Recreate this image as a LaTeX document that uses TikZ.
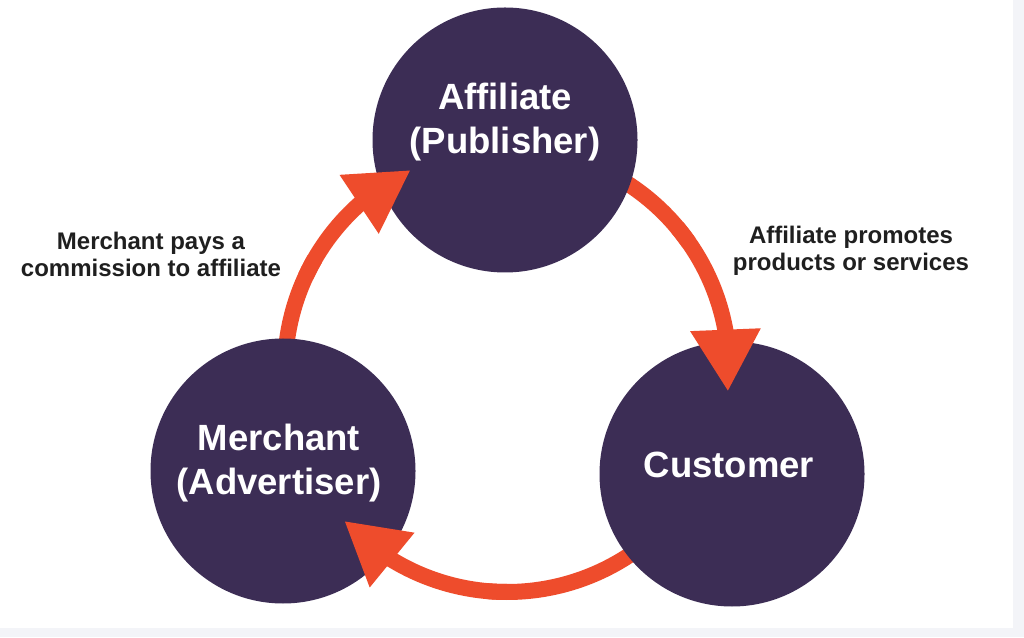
\documentclass[tikz,border=0pt]{standalone}
\usepackage{fontspec}
\setmainfont{Liberation Sans}
\usetikzlibrary{arrows.meta,bending,scopes}
\definecolor{plum}{RGB}{60,45,85}
\definecolor{flame}{RGB}{238,76,44}
\definecolor{pane}{RGB}{243,244,248}
\tikzset{
  >={Triangle[width=66pt,length=62pt]},
  disc/.style={circle, fill=plum, minimum size=265pt, inner sep=0pt},
  title/.style={text=white, align=center, font=\bfseries\fontsize{36.5}{44}\selectfont},
  note/.style={text=black!88, align=center, font=\bfseries\fontsize{24}{27}\selectfont},
  flow/.style={draw=flame, line width=16pt}
}
\begin{document}
\begin{tikzpicture}[x=1pt, y=1pt]
  \fill[pane] (0,0) rectangle (1024,637);
  \fill[white] (0,9) rectangle (1013,637);
  \useasboundingbox (0,0) rectangle (1024,637);
  \coordinate (hub) at (507,267);
  % tails of the cycle, under the discs
  {[flow]
    \draw (hub) ++(195:222pt) arc[start angle=195, end angle=150, radius=222pt];
    \draw (hub) ++(75:222pt) arc[start angle=75, end angle=35, radius=222pt];
    \draw (hub) ++(-45:222pt) arc[start angle=-45, end angle=-95, radius=222pt];
  }
  \node[disc] (aff) at (505,497) {};
  \node[disc] (mer) at (283,166) {};
  \node[disc] (cus) at (732,163) {};
  \node[title] (afft) at ([yshift=18pt]aff.center) {Affiliate\\(Publisher)};
  \node[title] (mert) at ([xshift=-4pt,yshift=8pt]mer.center) {Merchant\\(Advertiser)};
  \node[title] (cust) at ([xshift=-3pt,yshift=9pt]cus.center) {Customer};
  % heads, over the discs
  {[flow, ->]
    \draw (hub) ++(155:222pt) arc[start angle=155, end angle=115.7, radius=222pt];
    \draw (hub) ++(40:222pt) arc[start angle=40, end angle=-5.6, radius=222pt];
    \draw (hub) ++(-90:222pt) arc[start angle=-90, end angle=-137.2, radius=222pt];
  }
  \node[note] (pay) at (151,383) {Merchant pays a\\commission to affiliate};
  \node[note] (promo) at (851,386) {Affiliate promotes\\products or services};
\end{tikzpicture}
\end{document}
